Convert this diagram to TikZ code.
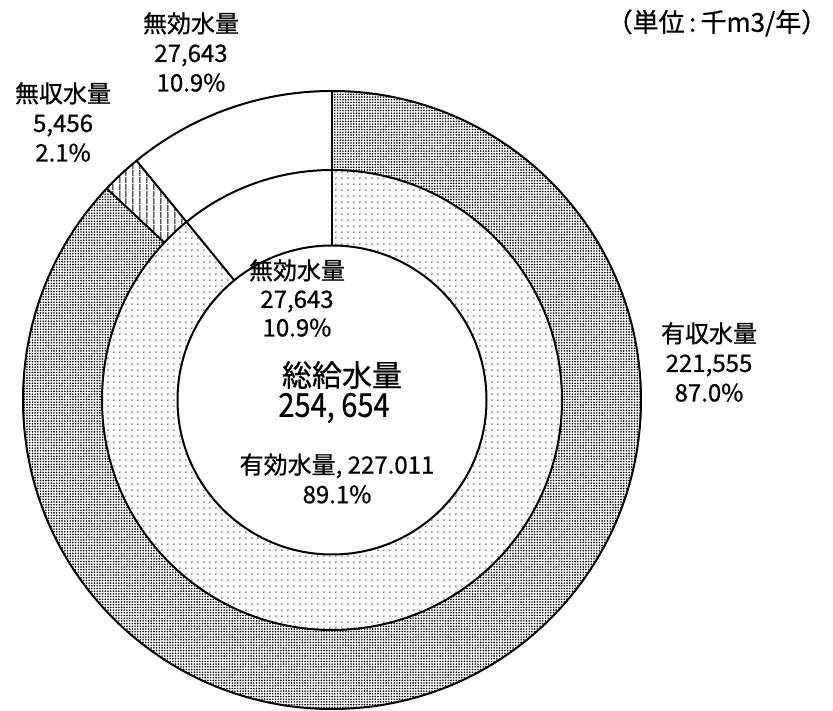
\documentclass[tikz,border=0pt]{standalone}
\usepackage{fontspec}
\setmainfont{Noto Sans CJK JP}[FakeBold=0.7]
\usetikzlibrary{patterns.meta}
\newcommand\annsec[5]{%
  \path[#5] (#1:#3) arc[start angle=#1, end angle=#2, radius=#3] -- (#2:#4) arc[start angle=#2, end angle=#1, radius=#4] -- cycle;}
\begin{document}
\begin{tikzpicture}[x=1pt,y=1pt,
  ringline/.style={line width=2pt, line join=round, draw=black},
  densedots/.style={pattern={Dots[distance=2.7pt, radius=0.9pt]}, pattern color=black},
  sparsedots/.style={pattern={Dots[distance=6.4pt, radius=0.8pt]}, pattern color=black},
  vlines/.style={pattern={Lines[angle=90, distance=6.5pt, line width=1.1pt]}, pattern color=black},
  lbl/.style={align=center, inner sep=0pt, font=\fontsize{24}{29.5}\selectfont},
]
\useasboundingbox (0,0) rectangle (833,710);
\begin{scope}[shift={(332,310)}]
\def\Ro{309}\def\Rm{230}\def\Ri{154.5}
% outer ring
\annsec{90}{-223.2}{\Ro}{\Rm}{fill=white}
\annsec{90}{-223.2}{\Ro}{\Rm}{densedots}
\annsec{136.8}{129.24}{\Ro}{\Rm}{fill=white}
\annsec{136.8}{129.24}{\Ro}{\Rm}{vlines}
\annsec{129.24}{90}{\Ro}{\Rm}{fill=white}
% middle ring
\annsec{90}{-230.76}{\Rm}{\Ri}{fill=white}
\annsec{90}{-230.76}{\Rm}{\Ri}{sparsedots}
\annsec{129.24}{90}{\Rm}{\Ri}{fill=white}
% centre
\path[fill=white] (0,0) circle[radius=\Ri];
% lines
\draw[ringline] (0,0) circle[radius=\Ro];
\draw[ringline] (0,0) circle[radius=\Rm];
\draw[ringline] (0,0) circle[radius=\Ri];
\draw[ringline] (90:\Ri) -- (90:\Ro);
\draw[ringline] (129.24:\Ri) -- (129.24:\Ro);
\draw[ringline] (136.8:\Rm) -- (136.8:\Ro);
\end{scope}
% labels
\node[lbl] (mukou1) at (191,658) {無効水量\\27,643\\10.9\%};
\node[lbl] (mushu) at (63,588) {無収水量\\5,456\\2.1\%};
\node[lbl, font=\fontsize{24}{28.5}\selectfont] (mukou2) at (297,412) {無効水量\\27,643\\10.9\%};
\node[inner sep=0pt, font=\fontsize{30}{30}\selectfont] (sou) at (342,335) {総給水量};
\node[inner sep=0pt, font=\fontsize{33}{33}\selectfont] (souv) at (334,302) {\scalebox{0.88}[1]{254, 654}};
\node[lbl] (yukou) at (337,231.5) {有効水量, 227.011\\89.1\%};
\node[lbl] (yushu) at (709,348) {有収水量\\221,555\\87.0\%};
\node[inner sep=0pt, font=\fontsize{26}{26}\selectfont] (unit) at (717,687) {（単位\,:\,千m3/年）};
\end{tikzpicture}
\end{document}
